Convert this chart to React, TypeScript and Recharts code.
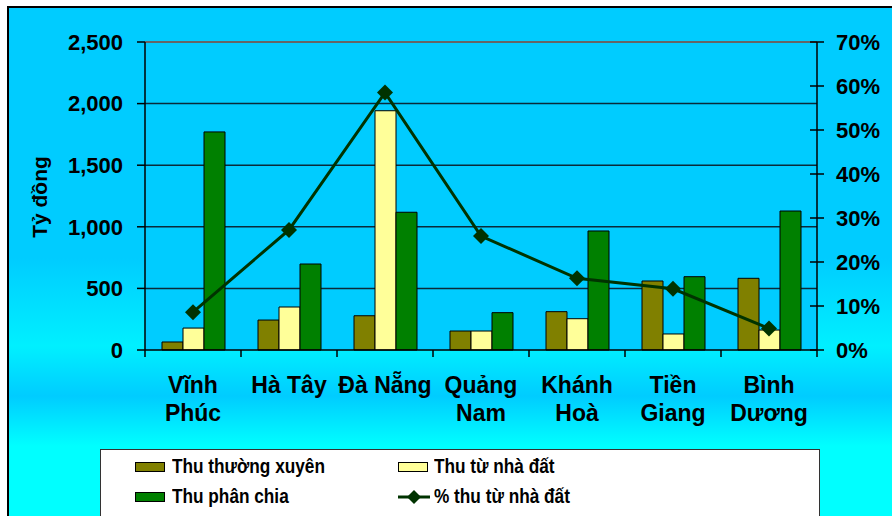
import React from 'react'
import { ComposedChart, Bar, Line, XAxis, YAxis, CartesianGrid, ReferenceLine } from 'recharts'

const provinces = ['Vĩnh Phúc', 'Hà Tây', 'Đà Nẵng', 'Quảng Nam', 'Khánh Hoà', 'Tiền Giang', 'Bình Dương']
const provinceLines = [['Vĩnh', 'Phúc'], ['Hà Tây'], ['Đà Nẵng'], ['Quảng', 'Nam'], ['Khánh', 'Hoà'], ['Tiền', 'Giang'], ['Bình', 'Dương']]
const thuThuongXuyen = [65, 243, 278, 154, 311, 560, 582]
const thuNhaDat = [178, 349, 1942, 154, 254, 130, 162]
const thuPhanChia = [1770, 698, 1118, 303, 966, 595, 1128]
const pctNhaDat = [8.6, 27.3, 58.5, 25.9, 16.3, 13.9, 4.9]

const leftTicks = [0, 500, 1000, 1500, 2000, 2500]
const rightTicks = [0, 10, 20, 30, 40, 50, 60, 70]

const data = provinces.map((name, i) => ({
  name,
  ttx: thuThuongXuyen[i],
  tnd: thuNhaDat[i],
  tpc: thuPhanChia[i],
  pct: pctNhaDat[i],
}))

const FONT = '"Liberation Sans", Arial, sans-serif'
const HALF = 48

function CategoryTick(props: any) {
  const { x, y, payload, index } = props
  const lines = provinceLines[index] || [payload.value]
  return (
    <g>
      <line x1={x - HALF} y1={y} x2={x - HALF} y2={y + 7} stroke="#000" strokeWidth={1.5} />
      {index === provinces.length - 1 && (
        <line x1={x + HALF} y1={y} x2={x + HALF} y2={y + 7} stroke="#000" strokeWidth={1.5} />
      )}
      {lines.map((l: string, k: number) => (
        <text key={k} x={x} y={y + 43 + k * 28} textAnchor="middle" fontFamily={FONT} fontWeight="bold" fontSize={23} fill="#000">
          {l}
        </text>
      ))}
    </g>
  )
}

function RightTick(props: any) {
  const { x, y, payload } = props
  return (
    <g>
      <line x1={x - 7} y1={y} x2={x + 7} y2={y} stroke="#000" strokeWidth={1.5} />
      <text x={x + 19} y={y} dy={8} textAnchor="start" fontFamily={FONT} fontWeight="bold" fontSize={22} fill="#000">
        {payload.value}%
      </text>
    </g>
  )
}

function Diamond(props: any) {
  const { cx, cy } = props
  if (cx == null || cy == null) return null
  const r = 8
  return <polygon points={`${cx},${cy - r} ${cx + r},${cy} ${cx},${cy + r} ${cx - r},${cy}`} fill="#003300" />
}

function LegendBox() {
  const text: React.CSSProperties = {
    position: 'absolute',
    fontFamily: FONT,
    fontWeight: 'bold',
    fontSize: 21,
    lineHeight: '22px',
    color: '#000',
    whiteSpace: 'nowrap',
    transform: 'scaleX(0.82)',
    transformOrigin: 'left center',
  }
  const sw = (left: number, top: number, color: string): React.CSSProperties => ({
    position: 'absolute',
    left,
    top,
    width: 28,
    height: 8,
    background: color,
    border: '1px solid #000',
  })
  return (
    <div
      style={{
        position: 'absolute',
        left: 100,
        top: 449,
        width: 720,
        height: 80,
        background: '#fff',
        border: '1.5px solid #333',
        boxSizing: 'border-box',
      }}
    >
      <div style={sw(34, 12, '#808000')} />
      <div style={{ ...text, left: 71, top: 5 }}>Thu thường xuyên</div>
      <div style={sw(297, 12, '#FFFF99')} />
      <div style={{ ...text, left: 333, top: 5 }}>Thu từ nhà đất</div>
      <div style={sw(34, 42, '#008000')} />
      <div style={{ ...text, left: 71, top: 35 }}>Thu phân chia</div>
      <svg style={{ position: 'absolute', left: 297, top: 38 }} width={32} height={18}>
        <line x1={0} y1={9} x2={32} y2={9} stroke="#003300" strokeWidth={3} />
        <polygon points="16,2 23,9 16,16 9,9" fill="#003300" />
      </svg>
      <div style={{ ...text, left: 333, top: 35 }}>% thu từ nhà đất</div>
    </div>
  )
}

export default function App() {
  return (
    <div style={{ position: 'fixed', left: 0, top: 0, width: 892, height: 516, background: '#fff', overflow: 'hidden' }}>
      <div
        style={{
          position: 'absolute',
          left: 7,
          top: 6,
          width: 900,
          height: 520,
          borderLeft: '2px solid #000',
          borderTop: '2px solid #000',
          background:
            'linear-gradient(to bottom, #00CCFF 0px, #00CCFF 250px, #00F0FF 338px, #00CCFF 388px, #00FFFF 438px, #00FFFF 520px)',
        }}
      />
      <div style={{ position: 'absolute', left: 0, top: 0 }}>
        <ComposedChart
          width={892}
          height={516}
          data={data}
          margin={{ top: 42, right: 0, bottom: 0, left: 0 }}
          barGap={0}
          barSize={21}
        >
          <CartesianGrid
            yAxisId="left"
            vertical={false}
            horizontalValues={[500, 1000, 1500, 2000]}
            stroke="#0a2a3a"
            strokeWidth={1.5}
            fill="#00CCFF"
            fillOpacity={1}
          />
          <ReferenceLine yAxisId="left" y={2500} stroke="#666" strokeWidth={2} />
          <XAxis
            dataKey="name"
            height={166}
            axisLine={{ stroke: '#000', strokeWidth: 1.5 }}
            tickLine={false}
            tickSize={0}
            tickMargin={0}
            interval={0}
            tick={<CategoryTick />}
          />
          <YAxis
            yAxisId="left"
            width={145}
            domain={[0, 2500]}
            ticks={leftTicks}
            tickFormatter={(v: number) => v.toLocaleString('en-US')}
            axisLine={{ stroke: '#000', strokeWidth: 1.5 }}
            tickLine={{ stroke: '#000', strokeWidth: 1.5 }}
            tickSize={8}
            tickMargin={14}
            tick={{ fill: '#000', fontFamily: FONT, fontWeight: 'bold', fontSize: 22 }}
          />
          <YAxis
            yAxisId="right"
            orientation="right"
            width={75}
            domain={[0, 70]}
            ticks={rightTicks}
            axisLine={{ stroke: '#000', strokeWidth: 1.5 }}
            tickLine={false}
            tickSize={0}
            tickMargin={0}
            tick={<RightTick />}
          />
          <Bar yAxisId="left" dataKey="ttx" name="Thu thường xuyên" fill="#808000" stroke="#000" strokeWidth={1} isAnimationActive={false} />
          <Bar yAxisId="left" dataKey="tnd" name="Thu từ nhà đất" fill="#FFFF99" stroke="#000" strokeWidth={1} isAnimationActive={false} />
          <Bar yAxisId="left" dataKey="tpc" name="Thu phân chia" fill="#008000" stroke="#000" strokeWidth={1} isAnimationActive={false} />
          <Line
            yAxisId="right"
            dataKey="pct"
            name="% thu từ nhà đất"
            stroke="#003300"
            strokeWidth={3}
            dot={<Diamond />}
            activeDot={false}
            isAnimationActive={false}
          />
        </ComposedChart>
      </div>
      <div
        style={{
          position: 'absolute',
          left: 40,
          top: 197,
          transform: 'translate(-50%, -50%) rotate(-90deg)',
          fontFamily: FONT,
          fontWeight: 'bold',
          fontSize: 21,
          lineHeight: '24px',
          whiteSpace: 'nowrap',
          color: '#000',
        }}
      >
        Tỷ đồng
      </div>
      <LegendBox />
    </div>
  )
}
